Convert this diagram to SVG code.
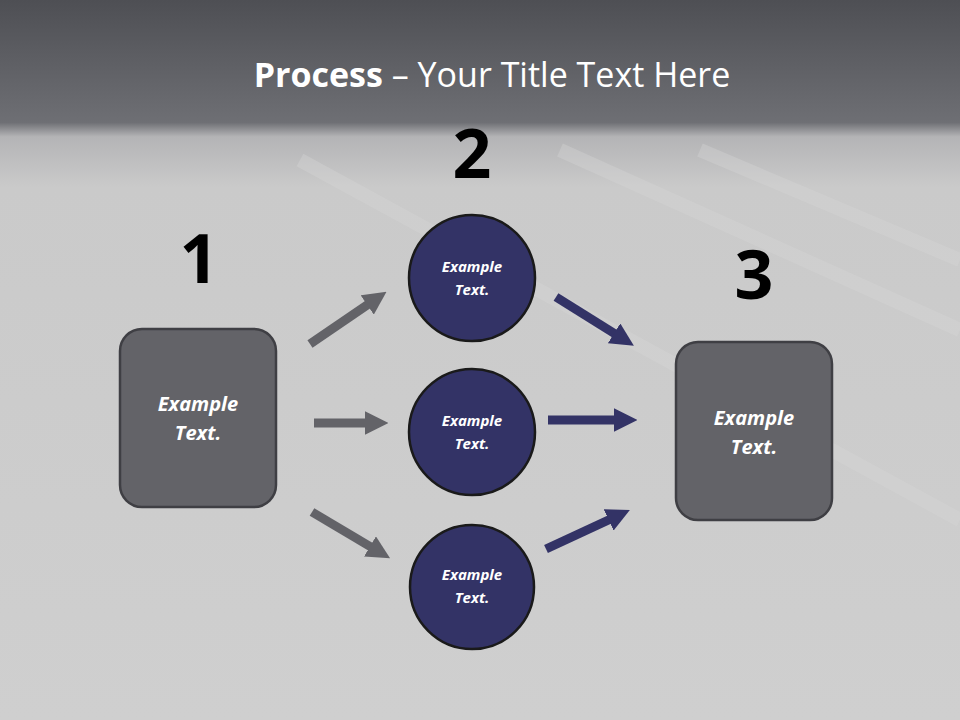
<svg xmlns="http://www.w3.org/2000/svg" width="960" height="720" viewBox="0 0 960 720">
<defs>
<linearGradient id="bg" x1="0" y1="0" x2="0" y2="1">
<stop offset="0" stop-color="#4e4f54"/>
<stop offset="0.17" stop-color="#6e6f74"/>
<stop offset="0.19" stop-color="#b4b4b6"/>
<stop offset="0.26" stop-color="#cacaca"/>
<stop offset="1" stop-color="#cfcfcf"/>
</linearGradient>
<marker id="ag" viewBox="0 0 10 10" refX="3" refY="5" markerWidth="2.6" markerHeight="2.6" orient="auto"><path d="M0,0 L10,5 L0,10 z" fill="#636368"/></marker>
<marker id="ab" viewBox="0 0 10 10" refX="3" refY="5" markerWidth="2.6" markerHeight="2.6" orient="auto"><path d="M0,0 L10,5 L0,10 z" fill="#333366"/></marker>
<style>
.box{fill:#636368;stroke:#3f3f44;stroke-width:2.5}
.circ{fill:#333366;stroke:#1a1a1a;stroke-width:2.5}
.bt{font-family:"Open Sans","Liberation Sans",sans-serif;font-weight:bold;font-style:italic;fill:#fff;text-anchor:middle;font-size:20px}
.ct{font-family:"Open Sans","Liberation Sans",sans-serif;font-weight:bold;font-style:italic;fill:#fff;text-anchor:middle;font-size:15px}
.num{font-family:"Open Sans","Liberation Sans",sans-serif;font-weight:bold;fill:#000;text-anchor:middle;font-size:68px}
.g{stroke:#636368;stroke-width:9;fill:none;marker-end:url(#ag)}
.b{stroke:#333366;stroke-width:9;fill:none;marker-end:url(#ab)}
</style>
</defs>
<rect width="960" height="720" fill="url(#bg)"/>
<g stroke="#d8d8d8" stroke-width="14" opacity="0.35">
<line x1="560" y1="150" x2="960" y2="330"/>
<line x1="700" y1="150" x2="960" y2="260"/>
<line x1="300" y1="160" x2="960" y2="520"/>
</g>
<text x="492" y="87" text-anchor="middle" font-family="'Open Sans','Liberation Sans',sans-serif" font-size="34" fill="#fff"><tspan font-weight="bold">Process</tspan> – Your Title Text Here</text>
<text class="num" x="199" y="283">1</text>
<text class="num" x="472" y="178">2</text>
<text class="num" x="754" y="299">3</text>
<g id="connectors">
<line class="g" x1="310" y1="344" x2="373" y2="301"/>
<line class="g" x1="314" y1="423" x2="372" y2="423"/>
<line class="g" x1="312" y1="512" x2="376" y2="550"/>
<line class="b" x1="556" y1="297" x2="620" y2="337"/>
<line class="b" x1="548" y1="420" x2="621" y2="420"/>
<line class="b" x1="546" y1="549" x2="615" y2="517"/>
</g>
<g id="n1"><rect class="box" x="120" y="329" width="156" height="178" rx="22"/><text class="bt" x="198" y="411">Example</text><text class="bt" x="198" y="440">Text.</text></g>
<g id="n3"><rect class="box" x="676" y="342" width="156" height="178" rx="22"/><text class="bt" x="754" y="425">Example</text><text class="bt" x="754" y="454">Text.</text></g>
<g id="c1"><circle class="circ" cx="472" cy="278" r="63"/><text class="ct" x="472" y="272">Example</text><text class="ct" x="472" y="295">Text.</text></g>
<g id="c2"><circle class="circ" cx="472" cy="432" r="63"/><text class="ct" x="472" y="426">Example</text><text class="ct" x="472" y="449">Text.</text></g>
<g id="c3"><circle class="circ" cx="472" cy="587" r="62"/><text class="ct" x="472" y="580">Example</text><text class="ct" x="472" y="603">Text.</text></g>
</svg>
